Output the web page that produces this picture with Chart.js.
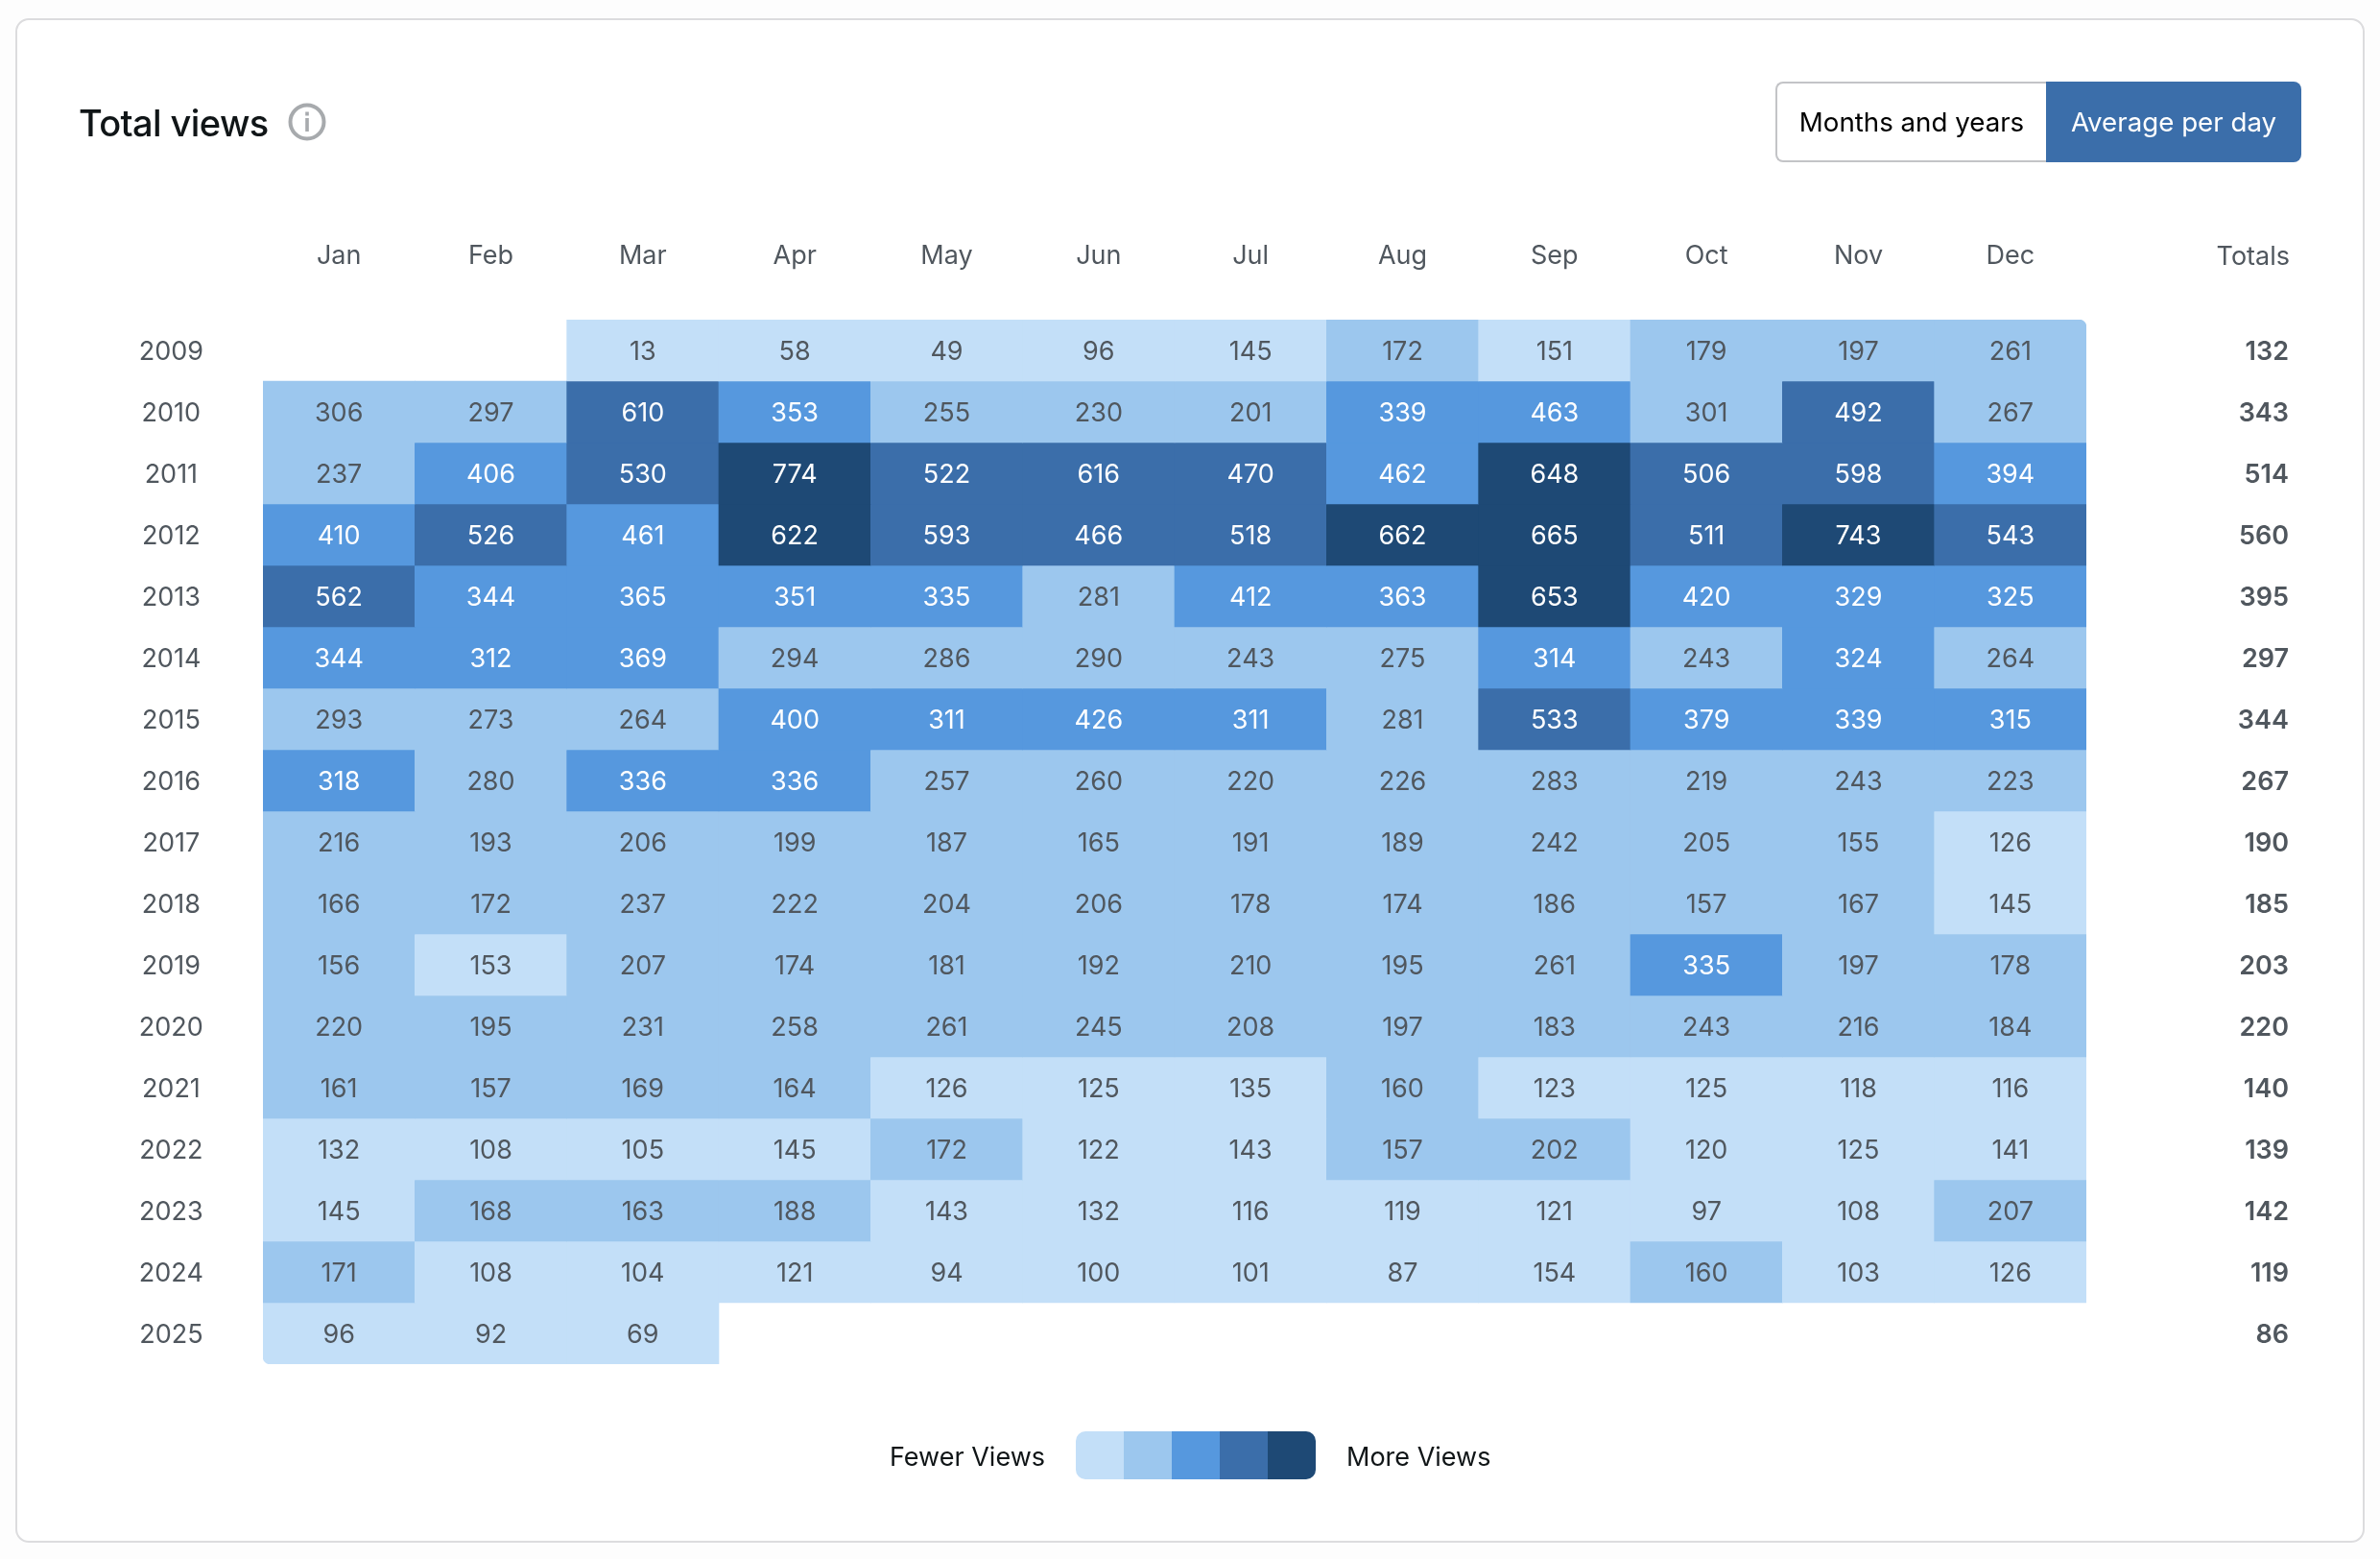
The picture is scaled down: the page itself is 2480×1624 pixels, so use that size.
<!DOCTYPE html>
<html>
<head>
<meta charset="utf-8">
<title>Total views</title>
<script src="https://cdn.jsdelivr.net/npm/chart.js@4"></script>
<style>
    html, body { margin: 0; padding: 0; background: #fdfdfd; }
    body { width: 2480px; height: 1624px; position: relative; overflow: hidden; font-family: Inter, sans-serif; }
    .card { position: absolute; left: 16px; top: 19px; width: 2444px; height: 1584px; background: #fff; border: 2px solid #dcdcde; border-radius: 14px; }
    #heatmap { position: absolute; left: 0; top: 0; }
    .title { position: absolute; left: 82px; top: 104px; font-size: 38px; letter-spacing: -0.6px; line-height: 48px; font-weight: 500; color: #101517; }
    .info { position: absolute; left: 300px; top: 107px; }
    .toggle { position: absolute; left: 1850px; top: 85px; width: 548px; height: 84px; display: flex; font-size: 27.7px; }
    .toggle div { display: flex; align-items: center; justify-content: center; box-sizing: border-box; }
    .toggle .off { width: 282px; color: #000; border: 2px solid #c3c4c7; border-right: 0; border-radius: 8px 0 0 8px; }
    .toggle .on { width: 266px; color: #fff; background: #3b6eaa; border-radius: 0 8px 8px 0; }
    .totals-head { position: absolute; right: 94px; top: 251px; font-size: 27px; line-height: 32px; color: #50575e; }
    .legend-text { position: absolute; top: 1502px; font-size: 27px; line-height: 32px; color: #101517; }
    .scale { position: absolute; left: 1121px; top: 1491px; display: flex; border-radius: 10px; overflow: hidden; }
    .scale span { display: block; width: 50px; height: 50px; }
</style>
</head>
<body>
<div class="card"></div>
<canvas id="heatmap" width="2480" height="1624"></canvas>
<div class="title">Total views</div>
<svg class="info" width="40" height="40" viewBox="0 0 40 40">
    <circle cx="20" cy="20" r="17.5" fill="none" stroke="#a7aaad" stroke-width="4"></circle>
    <rect x="18.2" y="9.5" width="3.6" height="4" fill="#a7aaad"></rect>
    <rect x="18.2" y="16" width="3.6" height="14" fill="#a7aaad"></rect>
</svg>
<div class="toggle"><div class="off">Months and years</div><div class="on">Average per day</div></div>
<div class="totals-head">Totals</div>
<div class="legend-text" style="left:927px">Fewer Views</div>
<div class="scale" id="scale"></div>
<div class="legend-text" style="left:1403px">More Views</div>

<script>
const months = ['Jan', 'Feb', 'Mar', 'Apr', 'May', 'Jun', 'Jul', 'Aug', 'Sep', 'Oct', 'Nov', 'Dec'];
const years = [2009, 2010, 2011, 2012, 2013, 2014, 2015, 2016, 2017, 2018, 2019, 2020, 2021, 2022, 2023, 2024, 2025];
const totals = [132, 343, 514, 560, 395, 297, 344, 267, 190, 185, 203, 220, 140, 139, 142, 119, 86];

const views2009 = [null, null, 13, 58, 49, 96, 145, 172, 151, 179, 197, 261];
const views2010 = [306, 297, 610, 353, 255, 230, 201, 339, 463, 301, 492, 267];
const views2011 = [237, 406, 530, 774, 522, 616, 470, 462, 648, 506, 598, 394];
const views2012 = [410, 526, 461, 622, 593, 466, 518, 662, 665, 511, 743, 543];
const views2013 = [562, 344, 365, 351, 335, 281, 412, 363, 653, 420, 329, 325];
const views2014 = [344, 312, 369, 294, 286, 290, 243, 275, 314, 243, 324, 264];
const views2015 = [293, 273, 264, 400, 311, 426, 311, 281, 533, 379, 339, 315];
const views2016 = [318, 280, 336, 336, 257, 260, 220, 226, 283, 219, 243, 223];
const views2017 = [216, 193, 206, 199, 187, 165, 191, 189, 242, 205, 155, 126];
const views2018 = [166, 172, 237, 222, 204, 206, 178, 174, 186, 157, 167, 145];
const views2019 = [156, 153, 207, 174, 181, 192, 210, 195, 261, 335, 197, 178];
const views2020 = [220, 195, 231, 258, 261, 245, 208, 197, 183, 243, 216, 184];
const views2021 = [161, 157, 169, 164, 126, 125, 135, 160, 123, 125, 118, 116];
const views2022 = [132, 108, 105, 145, 172, 122, 143, 157, 202, 120, 125, 141];
const views2023 = [145, 168, 163, 188, 143, 132, 116, 119, 121, 97, 108, 207];
const views2024 = [171, 108, 104, 121, 94, 100, 101, 87, 154, 160, 103, 126];
const views2025 = [96, 92, 69, null, null, null, null, null, null, null, null, null];

const rows = [views2009, views2010, views2011, views2012, views2013, views2014, views2015, views2016,
    views2017, views2018, views2019, views2020, views2021, views2022, views2023, views2024, views2025];

const shades = ['#c3dff8', '#9cc7ee', '#5698de', '#3b6eaa', '#1e4975'];
const textGrey = '#50575e';

// Five equal buckets up to the highest month
const maxViews = Math.max(...rows.flat());
function shadeIndex(v) {
    return Math.min(Math.floor(v / (maxViews / shades.length)), shades.length - 1);
}

// Legend swatches
shades.forEach(c => {
    const s = document.createElement('span');
    s.style.background = c;
    document.getElementById('scale').appendChild(s);
});

// One floating bar per month, one dataset per year
const datasets = rows.map((row, r) => {
    const cells = [];
    row.forEach((v, m) => {
        if (v !== null) cells.push({ x: months[m], y: [years[r] - 0.5, years[r] + 0.5], views: v });
    });
    return {
        data: cells,
        backgroundColor: cells.map(c => shades[shadeIndex(c.views)]),
        borderWidth: 0,
        borderSkipped: false,
        grouped: false,
        categoryPercentage: 1,
        barPercentage: 1,
        borderRadius: ctx => {
            if (r === 0 && ctx.dataIndex === cells.length - 1) return { topRight: 8 };
            if (r === rows.length - 1 && ctx.dataIndex === 0) return { bottomLeft: 8 };
            return 0;
        }
    };
});

// Value printed in the middle of each cell
const cellLabels = {
    id: 'cellLabels',
    afterDatasetsDraw(chart) {
        const ctx = chart.ctx;
        ctx.save();
        ctx.font = '27px Inter';
        ctx.textAlign = 'center';
        ctx.textBaseline = 'middle';
        chart.data.datasets.forEach((ds, d) => {
            chart.getDatasetMeta(d).data.forEach((bar, i) => {
                const v = ds.data[i].views;
                const p = bar.getCenterPoint();
                ctx.fillStyle = shadeIndex(v) >= 2 ? '#fff' : textGrey;
                ctx.fillText(v, p.x, p.y + 2);
            });
        });
        ctx.restore();
    }
};

// Small nudge so the labels sit level with the cell text
function yearTicks(axis) {
    axis.ticks = years.map(y => ({ value: y + 0.03 }));
}

function fixBox(axis, size) {
    if (axis.isHorizontal()) axis.height = size; else axis.width = size;
    axis.paddingTop = 0;
    axis.paddingBottom = 0;
    axis.paddingLeft = 0;
    axis.paddingRight = 0;
}

new Chart(document.getElementById('heatmap').getContext('2d'), {
    type: 'bar',
    data: { labels: months, datasets: datasets },
    options: {
        responsive: false,
        animation: false,
        layout: { padding: { left: 100, right: 95, top: 233, bottom: 203 } },
        plugins: { legend: { display: false }, tooltip: { enabled: false } },
        scales: {
            x: {
                type: 'category',
                position: 'top',
                afterFit: axis => fixBox(axis, 100),
                grid: { display: false, drawTicks: false },
                border: { display: false },
                ticks: { color: textGrey, font: { family: 'Inter', size: 27 }, padding: 50, maxRotation: 0, autoSkip: false }
            },
            y: {
                type: 'linear',
                position: 'left',
                reverse: true,
                min: 2008.5,
                max: 2025.5,
                afterBuildTicks: yearTicks,
                afterFit: axis => fixBox(axis, 174),
                grid: { display: false, drawTicks: false },
                border: { display: false },
                ticks: {
                    color: textGrey,
                    font: { family: 'Inter', size: 27 },
                    crossAlign: 'center',
                    padding: 62,
                    autoSkip: false,
                    callback: (value, index) => String(years[index])
                }
            },
            yTotals: {
                type: 'linear',
                position: 'right',
                reverse: true,
                min: 2008.5,
                max: 2025.5,
                afterBuildTicks: yearTicks,
                afterFit: axis => fixBox(axis, 211),
                grid: { display: false, drawTicks: false },
                border: { display: false },
                ticks: {
                    color: textGrey,
                    font: { family: 'Inter', size: 27, weight: '600' },
                    crossAlign: 'far',
                    autoSkip: false,
                    callback: (value, index) => String(totals[index])
                }
            }
        }
    },
    plugins: [cellLabels]
});
</script>
</body>
</html>
